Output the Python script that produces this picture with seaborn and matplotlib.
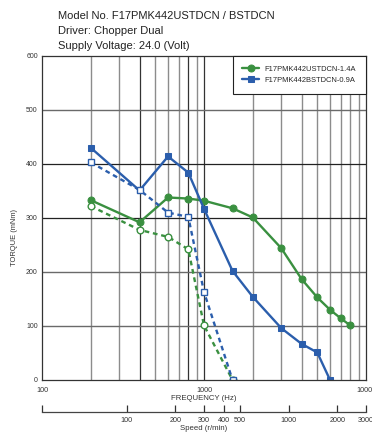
import matplotlib
matplotlib.use("Agg")
import matplotlib.pyplot as plt
import seaborn as sns
from matplotlib.ticker import FixedLocator, NullFormatter, NullLocator

# data (frequency in Hz, torque in mNm)
freq_us = [200, 400, 600, 800, 1000, 1500, 2000, 3000, 4000, 5000, 6000, 7000, 8000]
torque_us = [333, 292, 338, 336, 332, 318, 301, 244, 187, 153, 130, 114, 101]
freq_us_pullin = [200, 400, 600, 800, 1000, 1500]
torque_us_pullin = [322, 278, 265, 242, 101, 0]

freq_bs = [200, 400, 600, 800, 1000, 1500, 2000, 3000, 4000, 5000, 6000]
torque_bs = [430, 351, 414, 384, 317, 202, 154, 96, 67, 51, 0]
freq_bs_pullin = [200, 400, 600, 800, 1000, 1500]
torque_bs_pullin = [403, 352, 310, 302, 163, 0]

labels = ["F17PMK442USTDCN-1.4A", "F17PMK442BSTDCN-0.9A"]
title_lines = ["Model No. F17PMK442USTDCN / BSTDCN",
               "Driver: Chopper Dual",
               "Supply Voltage: 24.0 (Volt)"]
speed_ticks = [100, 200, 300, 400, 500, 1000, 2000, 3000]

green = "#3a9040"
blue = "#2b5eac"

sns.set_style("white")
plt.rcParams["font.family"] = ["Liberation Sans", "DejaVu Sans"]

fig = plt.figure(figsize=(3.72, 4.32), dpi=100)
ax = fig.add_axes([42 / 372, 1 - 380 / 432, 324 / 372, 324 / 432])

# grid
for f in [200, 300, 500, 600, 700, 900, 2000, 3000, 4000, 5000, 6000, 7000, 8000, 9000]:
    ax.axvline(f, color="#8c8c8c", lw=1.0, zorder=0)
for f in [400, 800, 1000]:
    ax.axvline(f, color="#333333", lw=0.9, zorder=0)
for t in [100, 200, 500]:
    ax.axhline(t, color="#6a6a6a", lw=1.0, zorder=0)
for t in [300, 400]:
    ax.axhline(t, color="#222222", lw=0.9, zorder=0)

lw = 1.7
sns.lineplot(x=freq_us, y=torque_us, ax=ax, color=green, lw=lw, marker="o",
             markersize=5, markeredgecolor=green, label=labels[0], sort=False)
sns.lineplot(x=freq_bs, y=torque_bs, ax=ax, color=blue, lw=lw, marker="s",
             markersize=5, markeredgecolor=blue, label=labels[1], sort=False)
sns.lineplot(x=freq_us_pullin, y=torque_us_pullin, ax=ax, color=green, lw=lw,
             linestyle=(0, (2.0, 1.6)), marker="o", markersize=4.8,
             markerfacecolor="white", markeredgecolor=green, markeredgewidth=1.0,
             legend=False, sort=False)
sns.lineplot(x=freq_bs_pullin, y=torque_bs_pullin, ax=ax, color=blue, lw=lw,
             linestyle=(0, (2.0, 1.6)), marker="s", markersize=4.8,
             markerfacecolor="white", markeredgecolor=blue, markeredgewidth=1.0,
             legend=False, sort=False)

ax.set_xscale("log")
ax.set_xlim(100, 10000)
ax.set_ylim(0, 600)
ax.xaxis.set_major_locator(FixedLocator([100, 1000, 10000]))
ax.xaxis.set_minor_locator(NullLocator())
ax.set_xticklabels(["100", "1000", "10000"])
ax.set_yticks([0, 100, 200, 300, 400, 500, 600])
ax.tick_params(axis="x", labelsize=5.2, length=0, pad=5, colors="#333333")
ax.tick_params(axis="y", labelsize=5.0, length=0, pad=3, colors="#333333")
for s in ax.spines.values():
    s.set_color("#333333")
    s.set_linewidth(0.9)

ax.set_xlabel("FREQUENCY (Hz)", fontsize=5.6, color="#333333", labelpad=1)
ax.set_ylabel("TORQUE (mNm)", fontsize=5.4, color="#333333")
ax.yaxis.set_label_coords(-0.075, 0.44)

# speed axis (1.8 deg step, 200 steps/rev)
sec = ax.secondary_xaxis(-0.1, functions=(lambda f: f * 0.3, lambda s: s / 0.3))
sec.xaxis.set_major_locator(FixedLocator(speed_ticks))
sec.xaxis.set_minor_locator(FixedLocator([30]))
sec.xaxis.set_minor_formatter(NullFormatter())
sec.set_xticklabels([str(s) for s in speed_ticks])
sec.tick_params(axis="x", which="both", direction="in", length=5, width=0.9,
                labelsize=5.2, pad=3, colors="#333333")
sec.spines["bottom"].set_color("#444444")
sec.spines["bottom"].set_linewidth(0.9)
sec.set_xlabel("Speed (r/min)", fontsize=5.6, color="#333333", labelpad=1)

leg = ax.legend(loc="upper right", fontsize=5.4, frameon=True, fancybox=False,
                borderpad=1.3, handlelength=2.2, labelspacing=0.5,
                borderaxespad=0)
leg.get_frame().set_edgecolor("#222222")
leg.get_frame().set_linewidth(0.8)
leg.get_frame().set_alpha(1)

for i, line in enumerate(title_lines):
    fig.text(58 / 372, 1 - (16 + 15 * i) / 432, line, fontsize=8,
             color="#222222", va="center", ha="left")

fig.savefig("out.png", dpi=100)
